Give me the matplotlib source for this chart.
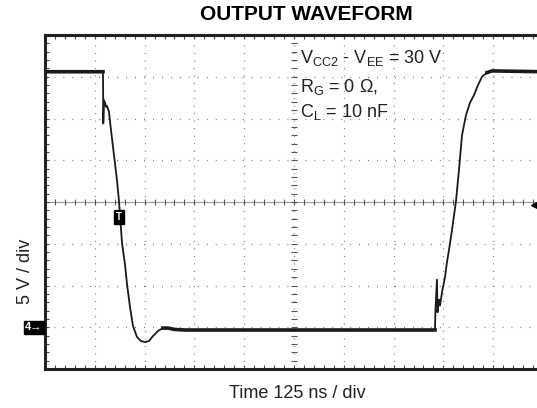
import numpy as np
import matplotlib
matplotlib.use("Agg")
import matplotlib.pyplot as plt
from matplotlib.transforms import blended_transform_factory

plt.rcParams['font.family'] = ['Liberation Sans', 'DejaVu Sans']
plt.rcParams['mathtext.fontset'] = 'custom'
plt.rcParams['mathtext.rm'] = 'Liberation Sans'

# scope trace: time (ns) and output voltage (V)
t_ns = [0, 145.6, 146.3, 148.1, 150.6, 153.1, 155.6, 160.6, 165.7, 173.2,
        180.7, 185.7, 193.3, 200.8, 205.8, 213.4, 220.9, 230.9, 240.9, 251.0,
        261.0, 271.0, 283.6, 296.0, 308.7, 326.3, 351.4, 978.9, 980.0, 983.9,
        985.2, 989.0, 991.5, 996.5, 1004.0, 1009.0, 1014.0, 1021.6, 1031.6, 1039.0,
        1046.7, 1056.7, 1066.8, 1076.8, 1086.8, 1096.9, 1109.4, 1122.0, 1250.0]
v_out = [30.6, 30.6, 24.4, 27.2, 26.9, 26.4, 26.5, 25.8, 23.6, 20.6,
         17.6, 15.1, 10.1, 7.5, 5.2, 2.4, 0.15, -1.17, -1.65, -1.77,
         -1.65, -1.05, -0.45, -0.1, -0.1, -0.27, -0.33, -0.33, 2.1, 5.7,
         1.8, 3.3, 2.6, 4.2, 6.0, 7.8, 9.25, 11.65, 15.1, 18.8,
         23.0, 25.4, 26.9, 27.8, 29.0, 30.0, 30.5, 30.7, 30.6]

ns_per_div = 125
v_per_div = 5
trig_level = 15
trig_mark = (185.7, 13.2)

t = np.array(t_ns)
v = np.array(v_out)

fig = plt.figure(figsize=(5.37, 4.08), dpi=100)
ax = fig.add_axes([45 / 537, 39 / 408, 498 / 537, 334 / 408])
ax.set_xlim(0, 10 * ns_per_div)
ax.set_ylim(-5, 35)

# dotted graticule
for k in range(1, 10):
    ax.axvline(k * ns_per_div, color='#666666', lw=0.9, ls=(0, (0.7, 5.31)), zorder=1)
for k in range(1, 8):
    ax.axhline(-5 + k * v_per_div, color='#666666', lw=0.9, ls=(0, (0.7, 6.47)), zorder=1)

# centre lines with small cross ticks
xc = 5 * ns_per_div
ax.axhline(trig_level, color='#999999', lw=0.8, zorder=1)
ax.plot(np.arange(0, 1251, 25), np.full(51, trig_level), ls='none', marker='|',
        ms=4, mew=0.8, color='#555555', zorder=1)
ax.plot(np.full(41, xc), np.arange(-5, 35.1, 1), ls='none', marker='_',
        ms=4, mew=0.8, color='#555555', zorder=1)

# waveform: thin on edges, thicker (noisy) on the settled levels
ax.plot(t, v, color='#1a1a1a', lw=1.3, zorder=3)
settled = (t <= 145.6) | ((t >= 296) & (t <= 978.9)) | (t >= 1109.4)
ax.plot(t, np.ma.masked_where(~settled, v), color='#1a1a1a', lw=2.6, zorder=3)

# trigger marker on the trace and trigger-level arrow at right
ax.text(trig_mark[0], trig_mark[1], 'T', color='white', fontsize=7, fontweight='bold',
        ha='center', va='center', zorder=4,
        bbox=dict(boxstyle='square,pad=0.25', fc='black', ec='black'))
ax.plot([1230], [trig_level - 0.3], marker='<', ms=6, color='black', clip_on=False, zorder=4)

# channel 4 ground marker
trans = blended_transform_factory(ax.transAxes, ax.transData)
ax.text(-0.022, 0, '4\u2192', transform=trans, color='white', fontsize=8, fontweight='bold',
        ha='center', va='center',
        bbox=dict(boxstyle='square,pad=0.15', fc='black', ec='black'))

# frame and edge ticks
for side in ['left', 'top', 'bottom']:
    ax.spines[side].set_linewidth(2.2)
    ax.spines[side].set_color('#222222')
ax.spines['right'].set_visible(False)
ax.set_xticks(np.arange(0, 1251, 125))
ax.set_xticks(np.arange(0, 1251, 25), minor=True)
ax.set_yticks(np.arange(-5, 35.1, 5))
ax.set_yticks(np.arange(-5, 35.1, 1), minor=True)
ax.tick_params(which='both', direction='in', top=True, left=True, bottom=True,
               length=3, width=0.8, color='#444444',
               labelleft=False, labelbottom=False)

fs = 13
ax.text(640, 31.66, r'$\mathregular{V_{CC2}}$ - $\mathregular{V_{EE}}$ = 30 V', fontsize=fs,
        va='baseline', color='#222222')
ax.text(640, 28.18, r'$\mathregular{R_{G}}$ = 0 Ω,', fontsize=fs, va='baseline', color='#222222')
ax.text(640, 25.19, r'$\mathregular{C_{L}}$ = 10 nF', fontsize=fs, va='baseline', color='#222222')

fig.text(306 / 537, 1 - 15 / 408, 'OUTPUT WAVEFORM', fontsize=15, fontweight='bold',
         ha='center', va='center')
fig.text(297 / 537, 1 - 393 / 408, 'Time 125 ns / div', fontsize=13, ha='center',
         va='center', color='#222222')
fig.text(25 / 537, 1 - 271 / 408, '5 V / div', fontsize=13, rotation=90, ha='center',
         va='center', color='#222222')

fig.savefig('out.png', dpi=100)
